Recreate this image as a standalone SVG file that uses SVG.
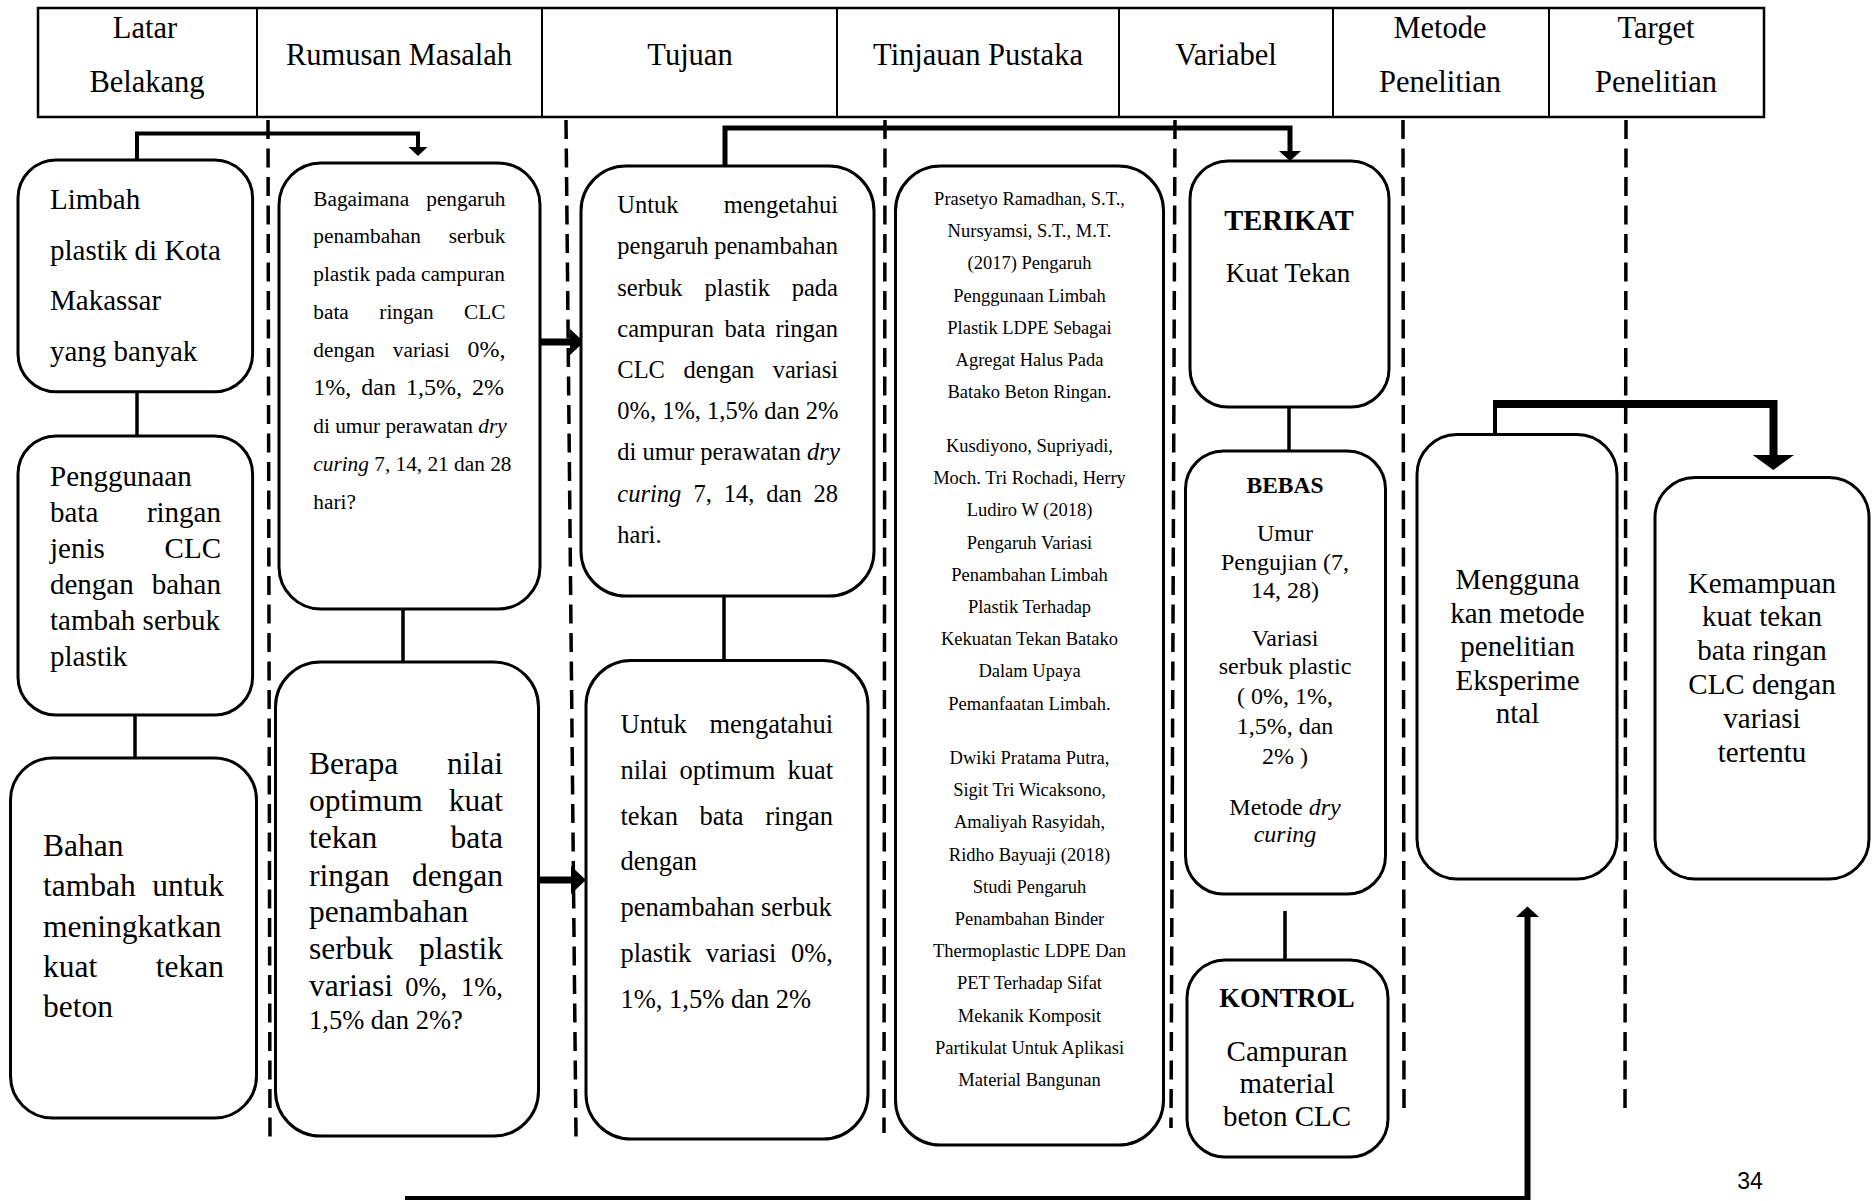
<svg xmlns="http://www.w3.org/2000/svg" width="1873" height="1201" viewBox="0 0 1873 1201">
<style>
text{font-family:"Liberation Serif","Times New Roman",serif;fill:#000}
.box{fill:#fff;stroke:#000;stroke-width:3}
.dash{stroke:#000;stroke-width:3.5;stroke-dasharray:19 9.5;fill:none}
.ln{stroke:#000;fill:none}
.r{text-anchor:end}
.m{text-anchor:middle}
.i{font-style:italic}
.b{font-weight:bold}
.h{font-size:30.5px}
.f29{font-size:29px}
.f31{font-size:31.5px}
.f21{font-size:21.3px}
.f24{font-size:24px}
.f245{font-size:24.5px}
.f265{font-size:26.5px}
.f18{font-size:18.5px}
</style>
<rect width="1873" height="1201" fill="#fff"/>
<g id="header">
<rect x="38" y="8" width="1726" height="109" fill="none" stroke="#000" stroke-width="2.5"/>
<g class="ln" stroke-width="2"><line x1="257" y1="8" x2="257" y2="117"/><line x1="542" y1="8" x2="542" y2="117"/><line x1="837" y1="8" x2="837" y2="117"/><line x1="1119" y1="8" x2="1119" y2="117"/><line x1="1333" y1="8" x2="1333" y2="117"/><line x1="1549" y1="8" x2="1549" y2="117"/></g>
<text class="h m" x="145" y="37.5">Latar</text><text class="h m" x="147" y="91.5">Belakang</text>
<text class="h m" x="399" y="65">Rumusan Masalah</text>
<text class="h m" x="690" y="65">Tujuan</text>
<text class="h m" x="978" y="65">Tinjauan Pustaka</text>
<text class="h m" x="1226" y="65">Variabel</text>
<text class="h m" x="1440" y="37.5">Metode</text><text class="h m" x="1440" y="91.5">Penelitian</text>
<text class="h m" x="1656" y="37.5">Target</text><text class="h m" x="1656" y="91.5">Penelitian</text>
</g>
<g id="dividers">
<line class="dash" x1="268" y1="120" x2="270" y2="1144"/>
<line class="dash" x1="566" y1="120" x2="576" y2="1138"/>
<line class="dash" x1="885" y1="120" x2="884" y2="1133"/>
<line class="dash" x1="1175" y1="120" x2="1171" y2="1128"/>
<line class="dash" x1="1403" y1="120" x2="1404" y2="1115"/>
<line class="dash" x1="1626" y1="120" x2="1625" y2="1115"/>
</g>
<g id="connectors">
<polyline class="ln" stroke-width="4" points="137,160 137,133.5 418,133.5 418,148"/>
<polygon points="408.5,147 427.5,147 418,156"/>
<line class="ln" stroke-width="3.5" x1="137" y1="392" x2="137" y2="436"/>
<line class="ln" stroke-width="3.5" x1="135" y1="715" x2="135" y2="758"/>
<line class="ln" stroke-width="3.5" x1="403" y1="609" x2="403" y2="662"/>
<line class="ln" stroke-width="7" x1="540" y1="342" x2="572" y2="342"/>
<polygon points="570,329 584,342 570,355"/>
<line class="ln" stroke-width="7" x1="539" y1="880" x2="573" y2="880"/>
<polygon points="571,866 586,880 571,894"/>
<polyline class="ln" stroke-width="5" points="725,166 725,128 1290,128 1290,152"/>
<polygon points="1279,151 1301,151 1290,161"/>
<line class="ln" stroke-width="3.5" x1="724" y1="597" x2="724" y2="660"/>
<line class="ln" stroke-width="3.5" x1="1289" y1="407" x2="1289" y2="451"/>
<line class="ln" stroke-width="3.5" x1="1285" y1="911" x2="1285" y2="959"/>
<line class="ln" stroke-width="4" x1="1495" y1="434" x2="1495" y2="404"/>
<polyline class="ln" stroke-width="8" points="1493,404 1773.5,404 1773.5,456"/>
<polygon points="1752.7,455 1794,455 1773.3,470"/>
<polyline class="ln" stroke-width="4" points="405,1198 1527.5,1198"/>
<line class="ln" stroke-width="6" x1="1527.5" y1="1200" x2="1527.5" y2="916"/>
<polygon points="1516,917 1539,917 1527.5,906.5"/>
</g>
<g id="latar1">
<rect class="box" x="18" y="160" width="234.6" height="231.7" rx="38"/>
<text class="f29" x="50" y="209">Limbah</text>
<text class="f29" x="50" y="260">plastik di Kota</text>
<text class="f29" x="50" y="310">Makassar</text>
<text class="f29" x="50" y="361">yang banyak</text>
</g>
<g id="latar2">
<rect class="box" x="18" y="436" width="234.6" height="279" rx="38"/>
<text class="f29" x="50" y="485.5">Penggunaan</text>
<text class="f29" x="50" y="522">bata</text><text class="f29 r" x="221" y="522">ringan</text>
<text class="f29" x="50" y="557.5">jenis</text><text class="f29 r" x="221" y="557.5">CLC</text>
<text class="f29" x="50" y="594">dengan</text><text class="f29 r" x="221" y="594">bahan</text>
<text class="f29" x="50" y="630">tambah serbuk</text>
<text class="f29" x="50" y="665.5">plastik</text>
</g>
<g id="latar3">
<rect class="box" x="10.5" y="758" width="246" height="360" rx="42"/>
<text class="f31" x="43" y="856">Bahan</text>
<text class="f31" x="43" y="896">tambah</text><text class="f31 r" x="224" y="896">untuk</text>
<text class="f31" x="43" y="936.5">meningkatkan</text>
<text class="f31" x="43" y="976.5">kuat</text><text class="f31 r" x="224" y="976.5">tekan</text>
<text class="f31" x="43" y="1017">beton</text>
</g>
<g id="rumusan1">
<rect class="box" x="279" y="163" width="261" height="446" rx="42"/>
<text class="f21" x="313.3" y="205.5">Bagaimana</text><text class="f21 r" x="505.5" y="205.5">pengaruh</text>
<text class="f21" x="313.3" y="243.4">penambahan</text><text class="f21 r" x="505.5" y="243.4">serbuk</text>
<text class="f21" x="313.3" y="281.3">plastik pada campuran</text>
<text class="f21" x="313.3" y="319.2">bata</text><text class="f21" x="379.3" y="319.2">ringan</text><text class="f21 r" x="505.5" y="319.2">CLC</text>
<text class="f21" x="313.3" y="357.1">dengan</text><text class="f21" x="392.8" y="357.1">variasi</text><text class="f24 r" x="505.5" y="357.1">0%,</text>
<text class="f24" x="313.3" y="395">1%,</text><text class="f24" x="361.3" y="395">dan</text><text class="f24" x="406" y="395">1,5%,</text><text class="f24 r" x="504" y="395">2%</text>
<text class="f21" x="313.3" y="432.9">di umur perawatan <tspan class="i">dry</tspan></text>
<text class="f21" x="313.3" y="470.8"><tspan class="i">curing</tspan> 7, 14, 21 dan 28</text>
<text class="f21" x="313.3" y="508.7">hari?</text>
</g>
<g id="rumusan2">
<rect class="box" x="275.5" y="662" width="263" height="474" rx="45"/>
<text class="f31" x="309" y="773.5">Berapa</text><text class="f31 r" x="503" y="773.5">nilai</text>
<text class="f31" x="309" y="811">optimum</text><text class="f31 r" x="503" y="811">kuat</text>
<text class="f31" x="309" y="848">tekan</text><text class="f31 r" x="503" y="848">bata</text>
<text class="f31" x="309" y="885.5">ringan</text><text class="f31 r" x="503" y="885.5">dengan</text>
<text class="f31" x="309" y="922">penambahan</text>
<text class="f31" x="309" y="959">serbuk</text><text class="f31 r" x="503" y="959">plastik</text>
<text class="f31" x="309" y="996">variasi</text><text class="f265" x="405.3" y="996">0%,</text><text class="f265 r" x="503" y="996">1%,</text>
<text class="f265" x="309" y="1029">1,5% dan 2%?</text>
</g>
<g id="tujuan1">
<rect class="box" x="581" y="166" width="293" height="430" rx="45"/>
<text class="f245" x="617.3" y="213">Untuk</text><text class="f245 r" x="838" y="213">mengetahui</text>
<text class="f245" x="617.3" y="254.2">pengaruh</text><text class="f245 r" x="838" y="254.2">penambahan</text>
<text class="f245" x="617.3" y="295.5">serbuk</text><text class="f245" x="704.6" y="295.5">plastik</text><text class="f245 r" x="838" y="295.5">pada</text>
<text class="f245" x="617.3" y="336.7">campuran</text><text class="f245" x="724.5" y="336.7">bata</text><text class="f245 r" x="838" y="336.7">ringan</text>
<text class="f245" x="617.3" y="378">CLC</text><text class="f245" x="683.6" y="378">dengan</text><text class="f245 r" x="838" y="378">variasi</text>
<text class="f245" x="617.3" y="419.2">0%, 1%, 1,5% dan 2%</text>
<text class="f245" x="617.3" y="460.4">di umur perawatan <tspan class="i">dry</tspan></text>
<text class="f245 i" x="617.3" y="501.7">curing</text><text class="f245" x="693.5" y="501.7">7,</text><text class="f245" x="723.7" y="501.7">14,</text><text class="f245" x="766.3" y="501.7">dan</text><text class="f245 r" x="838" y="501.7">28</text>
<text class="f245" x="617.3" y="542.9">hari.</text>
</g>
<g id="tujuan2">
<rect class="box" x="586" y="660.5" width="282" height="478.5" rx="45"/>
<text class="f265" x="620.5" y="733">Untuk</text><text class="f265 r" x="833" y="733">mengatahui</text>
<text class="f265" x="620.5" y="778.8">nilai</text><text class="f265" x="679.6" y="778.8">optimum</text><text class="f265 r" x="833" y="778.8">kuat</text>
<text class="f265" x="620.5" y="824.6">tekan</text><text class="f265" x="699.5" y="824.6">bata</text><text class="f265 r" x="833" y="824.6">ringan</text>
<text class="f265" x="620.5" y="870.4">dengan</text>
<text class="f265" x="620.5" y="916.2">penambahan serbuk</text>
<text class="f265" x="620.5" y="962">plastik</text><text class="f265" x="705.8" y="962">variasi</text><text class="f265 r" x="833" y="962">0%,</text>
<text class="f265" x="620.5" y="1007.8">1%, 1,5% dan 2%</text>
</g>
<g id="tinjauan">
<rect class="box" x="895.5" y="166" width="268" height="979" rx="45"/>
<g class="f18 m">
<text x="1029.5" y="205">Prasetyo Ramadhan, S.T.,</text>
<text x="1029.5" y="237.2">Nursyamsi, S.T., M.T.</text>
<text x="1029.5" y="269.4">(2017) Pengaruh</text>
<text x="1029.5" y="301.6">Penggunaan Limbah</text>
<text x="1029.5" y="333.8">Plastik LDPE Sebagai</text>
<text x="1029.5" y="366">Agregat Halus Pada</text>
<text x="1029.5" y="398.2">Batako Beton Ringan.</text>
<text x="1029.5" y="452">Kusdiyono, Supriyadi,</text>
<text x="1029.5" y="484.2">Moch. Tri Rochadi, Herry</text>
<text x="1029.5" y="516.4">Ludiro W (2018)</text>
<text x="1029.5" y="548.6">Pengaruh Variasi</text>
<text x="1029.5" y="580.8">Penambahan Limbah</text>
<text x="1029.5" y="613">Plastik Terhadap</text>
<text x="1029.5" y="645.2">Kekuatan Tekan Batako</text>
<text x="1029.5" y="677.4">Dalam Upaya</text>
<text x="1029.5" y="709.6">Pemanfaatan Limbah.</text>
<text x="1029.5" y="764">Dwiki Pratama Putra,</text>
<text x="1029.5" y="796.2">Sigit Tri Wicaksono,</text>
<text x="1029.5" y="828.4">Amaliyah Rasyidah,</text>
<text x="1029.5" y="860.6">Ridho Bayuaji (2018)</text>
<text x="1029.5" y="892.8">Studi Pengaruh</text>
<text x="1029.5" y="925">Penambahan Binder</text>
<text x="1029.5" y="957.2">Thermoplastic LDPE Dan</text>
<text x="1029.5" y="989.4">PET Terhadap Sifat</text>
<text x="1029.5" y="1021.6">Mekanik Komposit</text>
<text x="1029.5" y="1053.8">Partikulat Untuk Aplikasi</text>
<text x="1029.5" y="1086">Material Bangunan</text>
</g>
</g>
<g id="terikat">
<rect class="box" x="1190" y="161" width="199" height="246" rx="38"/>
<text class="m b" x="1289" y="230" font-size="28.5">TERIKAT</text>
<text class="m" x="1288" y="282" font-size="27">Kuat Tekan</text>
</g>
<g id="bebas">
<rect class="box" x="1185.5" y="451" width="200" height="443" rx="38"/>
<text class="m b" x="1285" y="493" font-size="23.5">BEBAS</text>
<g class="m f24">
<text x="1285" y="541">Umur</text>
<text x="1285" y="569.7">Pengujian (7,</text>
<text x="1285" y="598.4">14, 28)</text>
<text x="1285" y="646.2">Variasi</text>
<text x="1285" y="674">serbuk plastic</text>
<text x="1285" y="704">( 0%, 1%,</text>
<text x="1285" y="734.3">1,5%, dan</text>
<text x="1285" y="764.2">2% )</text>
<text x="1285" y="815">Metode <tspan class="i">dry</tspan></text>
<text x="1285" y="841.5" class="i">curing</text>
</g>
</g>
<g id="kontrol">
<rect class="box" x="1187" y="960" width="201" height="197" rx="38"/>
<text class="m b" x="1287" y="1006.6" font-size="26.5">KONTROL</text>
<text class="m f29" x="1287" y="1061">Campuran</text>
<text class="m f29" x="1287" y="1093">material</text>
<text class="m f29" x="1287" y="1126">beton CLC</text>
</g>
<g id="metode">
<rect class="box" x="1417" y="434.5" width="200" height="444.5" rx="40"/>
<text class="m f29" x="1517.5" y="589">Mengguna</text>
<text class="m f29" x="1517.5" y="622.5">kan metode</text>
<text class="m f29" x="1517.5" y="656">penelitian</text>
<text class="m f29" x="1517.5" y="689.5">Eksperime</text>
<text class="m f29" x="1517.5" y="723">ntal</text>
</g>
<g id="target">
<rect class="box" x="1655" y="477.5" width="214" height="401.5" rx="40"/>
<text class="m f29" x="1762" y="592.5">Kemampuan</text>
<text class="m f29" x="1762" y="626.3">kuat tekan</text>
<text class="m f29" x="1762" y="660">bata ringan</text>
<text class="m f29" x="1762" y="694">CLC dengan</text>
<text class="m f29" x="1762" y="727.8">variasi</text>
<text class="m f29" x="1762" y="761.6">tertentu</text>
</g>
<text x="1750" y="1189" text-anchor="middle" style="font-family:'Liberation Sans',Arial,sans-serif;font-size:23px">34</text>
</svg>
